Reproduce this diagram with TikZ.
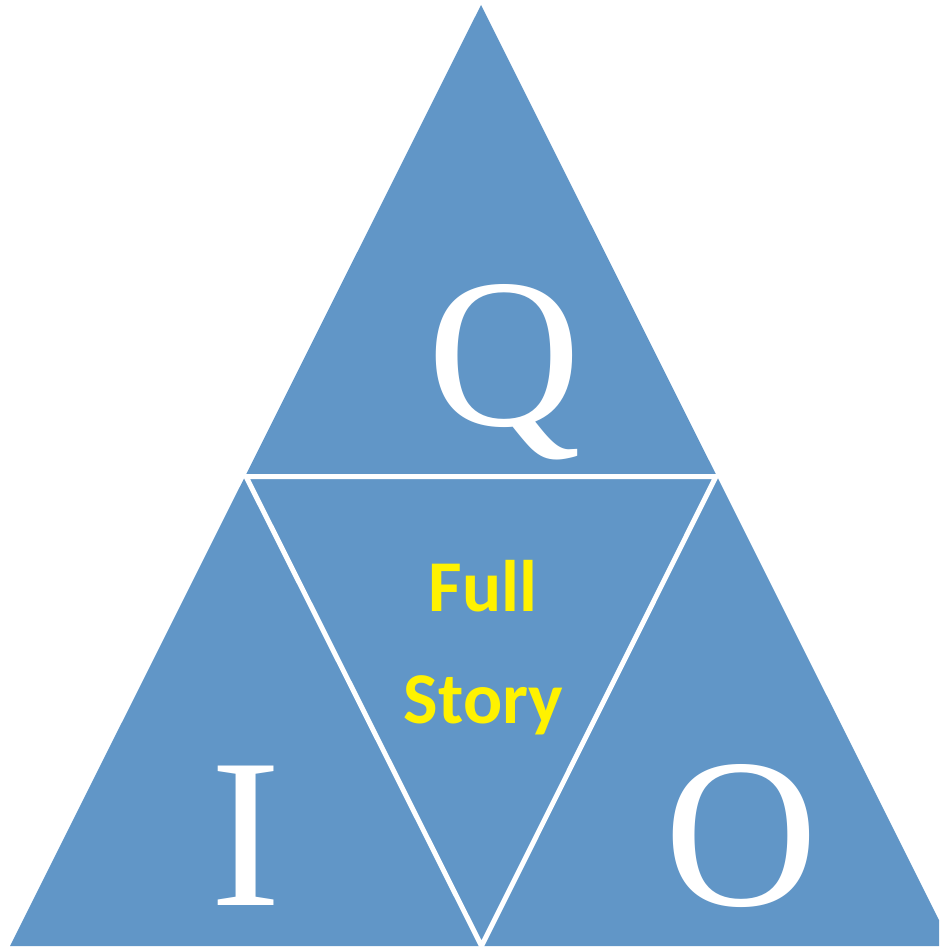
\documentclass[tikz,border=0pt]{standalone}
\usepackage{fontspec}
\setmainfont{Liberation Serif}
\newfontfamily\carlito{Carlito}
\definecolor{tri}{RGB}{97,150,199}
\begin{document}
\begin{tikzpicture}[x=1pt,y=-1pt,
  piece/.style={fill=tri},
  gap/.style={draw=white,line width=5pt,line join=miter},
  letter/.style={text=white,font=\fontsize{213}{213}\selectfont,inner sep=0pt,anchor=base},
  storytext/.style={text=yellow,font=\carlito\bfseries\fontsize{73}{73}\selectfont,inner sep=0pt,anchor=base}]
\useasboundingbox (0,0) rectangle (939,947);
\clip (0,0) rectangle (939,947);
\coordinate (A) at (481,5);
\coordinate (L) at (10,946);
\coordinate (R) at (952,946);
\coordinate (ML) at (246,476.5);
\coordinate (MR) at (716,476.5);
\coordinate (MB) at (481.5,946);
\fill[piece] (A) -- (L) -- (R) -- cycle;
\draw[gap] (ML) -- (MR) -- (MB) -- cycle;
\node[letter] (q) at (504,425) {Q};
\node[letter] (i) at (245.5,905) {I};
\node[letter] (o) at (741.5,905) {O};
\node[storytext] (full) at (483,611) {Full};
\node[storytext] (story) at (483.5,723) {Story};
\end{tikzpicture}
\end{document}
